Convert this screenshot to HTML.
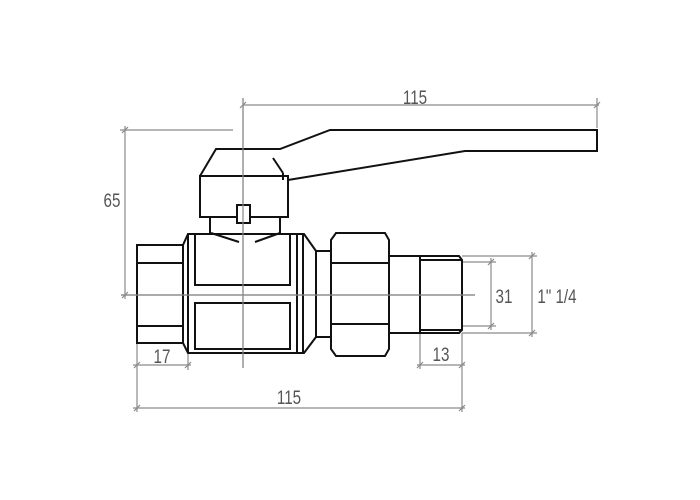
<!DOCTYPE html>
<html><head><meta charset="utf-8"><style>
html,body{margin:0;padding:0;background:#fff;}
svg{display:block;}
text{font-family:"Liberation Sans",sans-serif;font-size:19px;fill:#555;font-weight:normal;}
</style></head><body>
<svg width="700" height="500" viewBox="0 0 700 500" xmlns="http://www.w3.org/2000/svg">
<rect width="700" height="500" fill="#fff"/>
<!-- dimension lines (gray) -->
<g stroke="#8a8a8a" stroke-width="1.2" fill="none">
  <!-- center lines -->
  <line x1="243" y1="98" x2="243" y2="368"/>
  <line x1="121" y1="295" x2="475" y2="295"/>
  <!-- top 115 -->
  <line x1="243" y1="105" x2="599" y2="105"/>
  <line x1="597" y1="98" x2="597" y2="128"/>
  <!-- 65 -->
  <line x1="120" y1="130" x2="233" y2="130"/>
  <line x1="125" y1="126" x2="125" y2="299"/>
  <!-- 17 -->
  <line x1="137" y1="343" x2="137" y2="412"/>
  <line x1="188" y1="353" x2="188" y2="370"/>
  <line x1="133" y1="365" x2="191" y2="365"/>
  <!-- bottom 115 -->
  <line x1="133" y1="408" x2="465" y2="408"/>
  <line x1="462" y1="333" x2="462" y2="412"/>
  <!-- 13 -->
  <line x1="420" y1="333" x2="420" y2="369"/>
  <line x1="417" y1="365" x2="465" y2="365"/>
  <!-- 31 -->
  <line x1="462" y1="262" x2="496" y2="262"/>
  <line x1="462" y1="326" x2="496" y2="326"/>
  <line x1="491" y1="258" x2="491" y2="330"/>
  <!-- 1 1/4 -->
  <line x1="462" y1="256" x2="537" y2="256"/>
  <line x1="462" y1="333" x2="537" y2="333"/>
  <line x1="532" y1="252" x2="532" y2="337"/>
  <!-- ticks -->
  <g stroke-width="1.2">
    <line x1="240" y1="108" x2="246" y2="102"/>
    <line x1="594" y1="108" x2="600" y2="102"/>
    <line x1="122" y1="133" x2="128" y2="127"/>
    <line x1="122" y1="298" x2="128" y2="292"/>
    <line x1="134" y1="368" x2="140" y2="362"/>
    <line x1="185" y1="368" x2="191" y2="362"/>
    <line x1="134" y1="411" x2="140" y2="405"/>
    <line x1="459" y1="411" x2="465" y2="405"/>
    <line x1="417" y1="368" x2="423" y2="362"/>
    <line x1="459" y1="368" x2="465" y2="362"/>
    <line x1="488" y1="265" x2="494" y2="259"/>
    <line x1="488" y1="329" x2="494" y2="323"/>
    <line x1="529" y1="259" x2="535" y2="253"/>
    <line x1="529" y1="336" x2="535" y2="330"/>
  </g>
</g>
<!-- labels -->
<g>
  <text x="415" y="104" text-anchor="middle" transform="translate(415 0) scale(0.8 1) translate(-415 0)">115</text>
  <text x="112" y="207" text-anchor="middle" transform="translate(112 0) scale(0.8 1) translate(-112 0)">65</text>
  <text x="162" y="363" text-anchor="middle" transform="translate(162 0) scale(0.8 1) translate(-162 0)">17</text>
  <text x="289" y="404" text-anchor="middle" transform="translate(289 0) scale(0.8 1) translate(-289 0)">115</text>
  <text x="441" y="361" text-anchor="middle" transform="translate(441 0) scale(0.8 1) translate(-441 0)">13</text>
  <text x="504" y="303" text-anchor="middle" transform="translate(504 0) scale(0.8 1) translate(-504 0)">31</text>
  <text x="557" y="303" text-anchor="middle" transform="translate(557 0) scale(0.8 1) translate(-557 0)">1" 1/4</text>
</g>
<!-- valve (black) -->
<g stroke="#111" stroke-width="2" fill="none" stroke-linejoin="miter">
  <!-- handle -->
  <polyline points="200,176 216,149 280,149 330,130 597,130 597,151 465,151 288,180"/>
  <line x1="273" y1="158" x2="283" y2="173"/>
  <line x1="283" y1="173" x2="283" y2="180"/>
  <rect x="200" y="176" width="88" height="41"/>
  <rect x="237" y="205" width="13" height="18" fill="#fff"/>
  <line x1="210" y1="217" x2="210" y2="234"/>
  <line x1="280" y1="217" x2="280" y2="234"/>
  <line x1="211" y1="233" x2="239" y2="242"/>
  <line x1="255" y1="242" x2="280" y2="233"/>
  <!-- left socket -->
  <rect x="137" y="245" width="46" height="98"/>
  <line x1="137" y1="263" x2="183" y2="263"/>
  <line x1="137" y1="326" x2="183" y2="326"/>
  <!-- body -->
  <polygon points="188,234 304,234 316,251 316,337 304,353 188,353 183,343 183,245"/>
  <line x1="188" y1="234" x2="188" y2="353"/>
  <line x1="297" y1="234" x2="297" y2="353"/>
  <line x1="303" y1="234" x2="303" y2="353"/>
  <rect x="195" y="234" width="95" height="51"/>
  <rect x="195" y="303" width="95" height="46"/>
  <!-- small neck -->
  <rect x="316" y="251" width="15" height="86"/>
  <!-- nut -->
  <polygon points="336,233 385,233 389,240 389,349 385,356 336,356 331,349 331,240"/>
  <line x1="331" y1="263" x2="389" y2="263"/>
  <line x1="331" y1="324" x2="389" y2="324"/>
  <!-- tail -->
  <rect x="389" y="256" width="31" height="77"/>
  <polygon points="420,256 459,256 462,260 462,330 459,333 420,333"/>
  <line x1="420" y1="260" x2="462" y2="260"/>
  <line x1="420" y1="330" x2="462" y2="330"/>
</g>
<!-- redraw center lines over shapes -->
<g stroke="#8a8a8a" stroke-width="1.2">
  <line x1="243" y1="98" x2="243" y2="368"/>
  <line x1="121" y1="295" x2="475" y2="295"/>
</g>
</svg>
</body></html>
